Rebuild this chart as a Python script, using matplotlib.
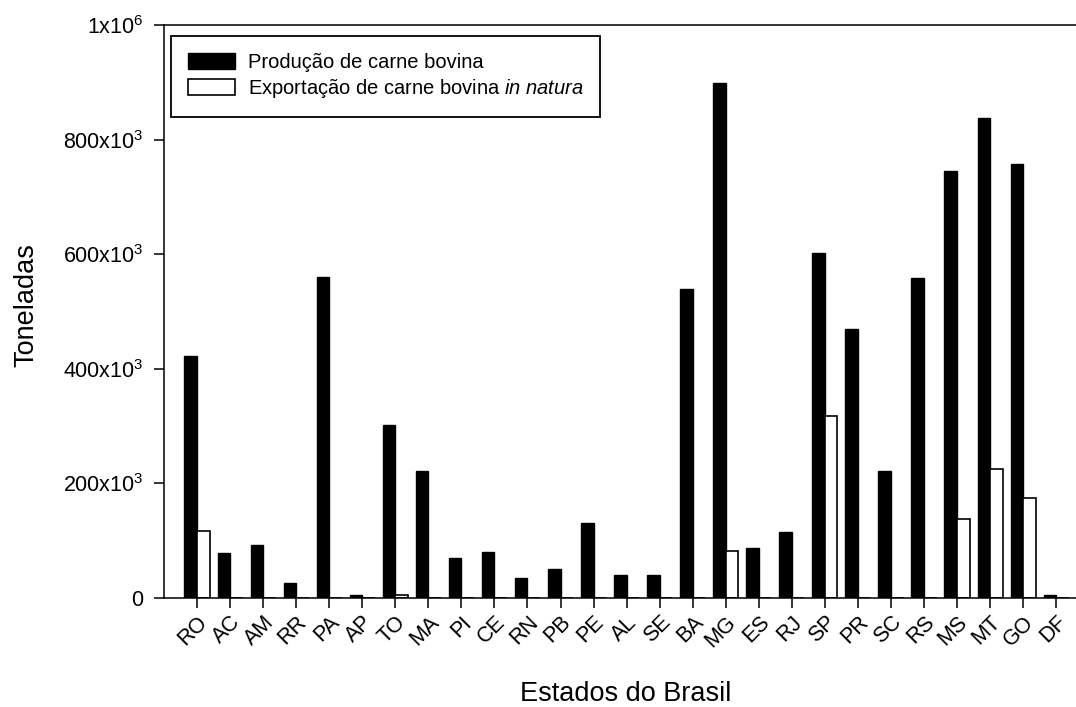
import numpy as np
import matplotlib
matplotlib.use("Agg")
import matplotlib.pyplot as plt

plt.rcParams['font.family'] = ['Liberation Sans', 'DejaVu Sans']
plt.rcParams['mathtext.fontset'] = 'custom'
plt.rcParams['mathtext.rm'] = 'Liberation Sans'
plt.rcParams['mathtext.it'] = 'Liberation Sans:italic'

# estados e valores (toneladas)
estados = ['RO', 'AC', 'AM', 'RR', 'PA', 'AP', 'TO', 'MA', 'PI', 'CE', 'RN', 'PB', 'PE', 'AL',
           'SE', 'BA', 'MG', 'ES', 'RJ', 'SP', 'PR', 'SC', 'RS', 'MS', 'MT', 'GO', 'DF']
producao = [422e3, 79e3, 93e3, 26e3, 560e3, 6e3, 302e3, 222e3, 69e3, 81e3, 35e3, 50e3, 131e3, 41e3,
            41e3, 539e3, 899e3, 87e3, 115e3, 602e3, 470e3, 222e3, 558e3, 746e3, 838e3, 757e3, 6e3]
exportacao = [117e3, 0, 0, 0, 0, 0, 5e3, 0, 0, 0, 0, 0, 0, 0,
              0, 0, 82e3, 0, 0, 318e3, 0, 0, 0, 138e3, 225e3, 175e3, 0]
yticks = [0, 200e3, 400e3, 600e3, 800e3, 1e6]
ylabels = ['0', '200x10$^{3}$', '400x10$^{3}$', '600x10$^{3}$', '800x10$^{3}$', '1x10$^{6}$']

fig = plt.figure(figsize=(10.76, 7.07), dpi=100)
ax = fig.add_axes([164 / 1076, 1 - 598 / 707, 1 - 164 / 1076, 573 / 707])

x = np.arange(len(estados))
w = 0.38
ax.bar(x - w / 2, producao, w, color='black', edgecolor='black', linewidth=1.0,
       label='Produção de carne bovina')
ax.bar(x + w / 2, exportacao, w, color='white', edgecolor='black', linewidth=1.2,
       label='Exportação de carne bovina $\\it{in\\ natura}$')

ax.set_xlim(-1, 26.6)
ax.set_ylim(0, 1e6)
ax.set_yticks(yticks)
ax.set_yticklabels(ylabels)
ax.set_xticks(x)
ax.set_xticklabels(estados, rotation=45, ha='right', rotation_mode='anchor')

ax.spines['right'].set_visible(False)
for s in ['left', 'bottom', 'top']:
    ax.spines[s].set_linewidth(1.1)
ax.tick_params(axis='both', length=7, width=1.1, labelsize=15.5)
ax.tick_params(axis='y', pad=8)
ax.tick_params(axis='x', pad=3)

ax.set_ylabel('Toneladas', fontsize=19.5)
ax.set_xlabel('Estados do Brasil', fontsize=19.5)
ax.yaxis.set_label_coords(-0.137, 0.512)
ax.xaxis.set_label_coords(0.5066, -0.145)

leg = ax.legend(loc='upper left', bbox_to_anchor=(0.0077, 0.981), borderaxespad=0,
                fontsize=14.5, fancybox=False, shadow=False, framealpha=1,
                edgecolor='black', handlelength=2.35, handleheight=0.8,
                handletextpad=0.6, labelspacing=0.25, borderpad=0.85)
leg.get_frame().set_linewidth(1.3)

fig.savefig('out.png', dpi=100)
